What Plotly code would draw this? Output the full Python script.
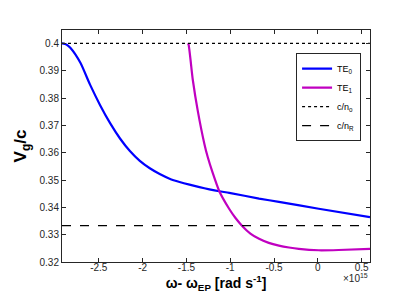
import plotly.graph_objects as go

# x in units of 1e15 rad/s
te0_x = [-2.92, -2.87, -2.825, -2.71, -2.6, -2.485, -2.371, -2.258, -2.145, -2.032, -1.918, -1.805,
         -1.692, -1.578, -1.465, -1.351, -1.238, -1.125, -1.011, -0.671, -0.4445, 0.01, 0.595]
te0_y = [0.4, 0.3996, 0.3984, 0.3929, 0.3849, 0.3774, 0.3708, 0.3652, 0.3606, 0.3570, 0.3543, 0.3522,
         0.3505, 0.3493, 0.3483, 0.3474, 0.3466, 0.3459, 0.3453, 0.3432, 0.3420, 0.3395, 0.3364]
te1_x = [-1.484, -1.476, -1.427, -1.37, -1.295, -1.257, -1.2, -1.125, -1.011, -0.94, -0.861, -0.77,
         -0.671, -0.56, -0.4445, -0.33, -0.218, 0.01, 0.237, 0.595]
te1_y = [0.4, 0.3996, 0.3866, 0.3752, 0.3632, 0.3584, 0.3526, 0.3459, 0.3394, 0.3361, 0.3331, 0.3304,
         0.3285, 0.3270, 0.326, 0.3253, 0.3248, 0.3243, 0.3244, 0.3248]
x_range = [-2.92, 0.595]
c_no = 0.4
c_nR = 0.3333

xtick_vals = [-2.5, -2, -1.5, -1, -0.5, 0, 0.5]
xtick_text = ["-2.5", "-2", "-1.5", "-1", "-0.5", "0", "0.5"]
ytick_vals = [0.32, 0.33, 0.34, 0.35, 0.36, 0.37, 0.38, 0.39, 0.4]
ytick_text = ["0.32", "0.33", "0.34", "0.35", "0.36", "0.37", "0.38", "0.39", "0.4"]

FONT = "Liberation Sans, Arial"

fig = go.Figure()
fig.add_trace(go.Scatter(x=te0_x, y=te0_y, mode="lines", name="TE<sub>0</sub>",
                         line=dict(color="#0000ff", width=2.2, shape="spline", smoothing=0.6)))
fig.add_trace(go.Scatter(x=te1_x, y=te1_y, mode="lines", name="TE<sub>1</sub>",
                         line=dict(color="#c000c0", width=2.2, shape="spline", smoothing=0.6)))
fig.add_trace(go.Scatter(x=x_range, y=[c_no, c_no], mode="lines", name="c/n<sub>o</sub>",
                         line=dict(color="black", width=1.3, dash="dot")))
fig.add_trace(go.Scatter(x=x_range, y=[c_nR, c_nR], mode="lines", name="c/n<sub>R</sub>",
                         line=dict(color="black", width=1.3, dash="dash")))

axis_common = dict(showline=True, linecolor="#262626", linewidth=1, mirror="ticks",
                   ticks="inside", ticklen=4, tickcolor="#262626", showgrid=False, zeroline=False,
                   tickfont=dict(family=FONT, size=10, color="#262626"))

fig.update_xaxes(range=x_range, tickvals=xtick_vals, ticktext=xtick_text, ticklabelstandoff=-4,
                 title=dict(text="<b>ω- ω<sub>EP</sub> [rad s<sup>-1</sup>]</b>", standoff=6,
                            font=dict(family=FONT, size=14, color="black")),
                 **axis_common)
fig.update_yaxes(range=[0.32, 0.4049], tickvals=ytick_vals, ticktext=ytick_text,
                 title=dict(text="<b>V<sub>g</sub>/c</b>", standoff=8,
                            font=dict(family=FONT, size=17, color="black")),
                 **axis_common)

fig.add_annotation(x=1.0, y=-0.07, xref="paper", yref="paper", xanchor="right", yanchor="middle",
                   text="×10<sup>15</sup>", showarrow=False,
                   font=dict(family=FONT, size=10, color="#262626"))

fig.update_layout(width=399, height=299, margin=dict(l=52, r=37, t=22, b=45),
                  plot_bgcolor="white", paper_bgcolor="white",
                  legend=dict(x=0.971, y=0.9, xanchor="right", yanchor="top",
                              bordercolor="#262626", borderwidth=1, bgcolor="white",
                              font=dict(family=FONT, size=9, color="black"),
                              itemwidth=30, tracegroupgap=0))

fig.write_html("out.html")
